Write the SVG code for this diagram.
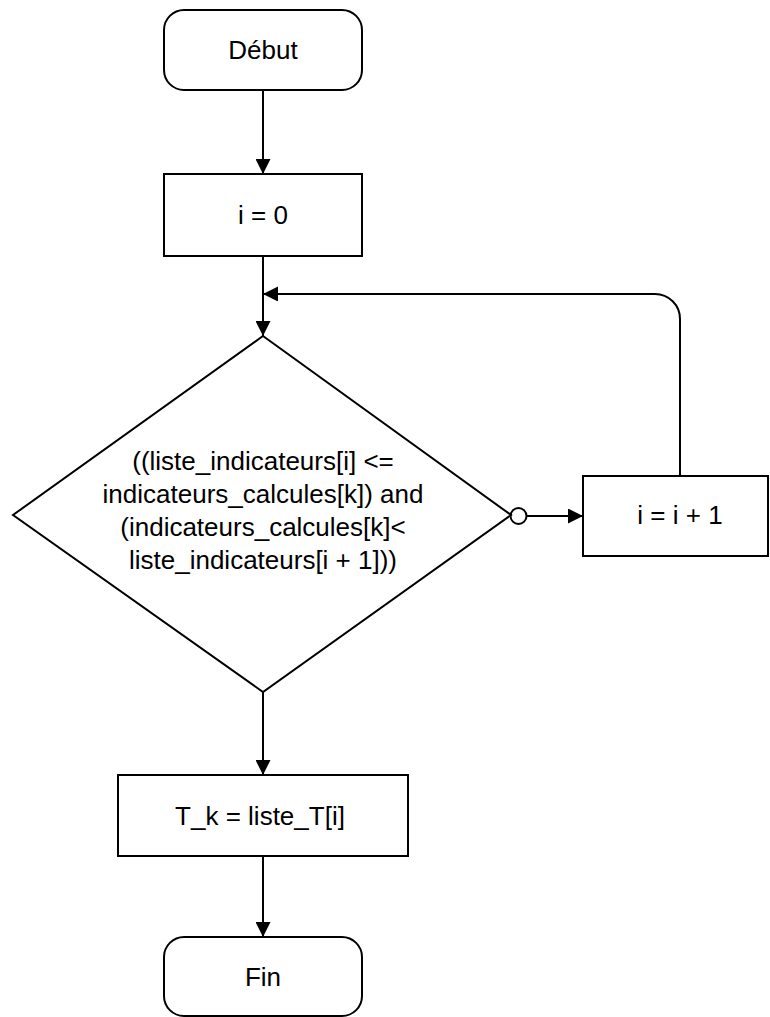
<svg xmlns="http://www.w3.org/2000/svg" width="770" height="1017" viewBox="0 0 770 1017">
<style>
.n{fill:#fff;stroke:#000;stroke-width:2}
.t{font-family:"Liberation Sans",Arial,sans-serif;font-size:26px;fill:#000;text-anchor:middle}
.c{fill:none;stroke:#000;stroke-width:2}
</style>
<defs>
<marker id="a" markerUnits="userSpaceOnUse" markerWidth="15" markerHeight="15" refX="15" refY="7.5" orient="auto"><path d="M0,0 L15,7.5 L0,15 z" fill="#000"/></marker>
</defs>
<rect width="770" height="1017" fill="#fff"/>
<g id="connectors">
<path class="c" d="M263,90 V174" marker-end="url(#a)"/>
<path class="c" d="M263,256 V336" marker-end="url(#a)"/>
<path class="c" d="M680,476 V319 A25,25 0 0 0 655,294 H263" marker-end="url(#a)"/>
<path class="c" d="M526.5,516 H583" marker-end="url(#a)"/>
<circle cx="518.5" cy="516" r="8" fill="#fff" stroke="#000" stroke-width="2"/>
<path class="c" d="M263,692 V775" marker-end="url(#a)"/>
<path class="c" d="M263,856 V937" marker-end="url(#a)"/>
</g>
<g id="debut"><rect class="n" x="164" y="10" width="198" height="80" rx="20"/><text class="t" x="263" y="59">Début</text></g>
<g id="init"><rect class="n" x="164" y="174" width="198" height="82"/><text class="t" x="263" y="224">i = 0</text></g>
<g id="cond"><polygon class="n" points="263,336 511,515 263,692 13,515"/>
<text class="t" x="263" y="470">((liste_indicateurs[i] &lt;=</text>
<text class="t" x="263" y="503">indicateurs_calcules[k]) and</text>
<text class="t" x="263" y="536">(indicateurs_calcules[k]&lt;</text>
<text class="t" x="263" y="569">liste_indicateurs[i + 1]))</text></g>
<g id="incr"><rect class="n" x="583" y="476" width="185" height="80"/><text class="t" x="680" y="524">i = i + 1</text></g>
<g id="assign"><rect class="n" x="118" y="775" width="290" height="81"/><text class="t" x="260" y="825">T_k = liste_T[i]</text></g>
<g id="fin"><rect class="n" x="164" y="937" width="198" height="79" rx="20"/><text class="t" x="263" y="986">Fin</text></g>
</svg>
